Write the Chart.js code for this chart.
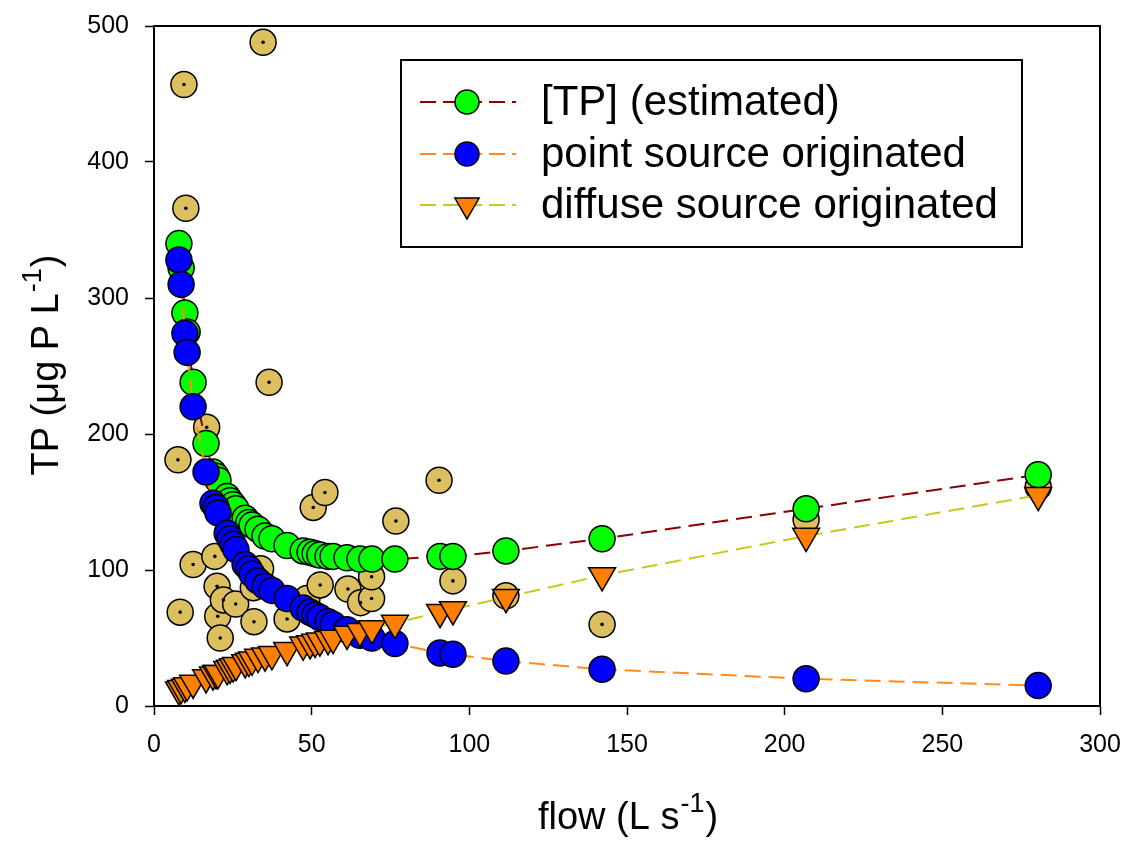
<!DOCTYPE html>
<html><head><meta charset="utf-8">
<script src="https://cdn.jsdelivr.net/npm/chart.js@4.4.0/dist/chart.umd.min.js"></script>
<style>html,body{margin:0;padding:0;background:#fff}#wrap{width:1125px;height:842px;position:relative}</style>
</head><body><div id="wrap"><canvas id="c" width="1125" height="842"></canvas></div>
<script>
// flow (L s-1) shared by the modelled series
const flow = [7.9, 8.6, 9.8, 10.5, 12.4, 16.5, 18.7, 19.7, 20.3, 23.2, 24.1, 25.1, 26.0, 28.9, 30.1, 31.1, 33.0, 35.2, 37.4, 42.2, 47.3, 49.5, 51.1, 52.6, 55.2, 56.8, 61.2, 65.3, 69.1, 76.4, 90.7, 94.8, 111.6, 142.1, 206.8, 280.4];
const tpEstimated = [340, 322, 289, 275, 238, 193, 172, 169, 166, 154, 151, 148, 145, 138, 135, 133, 130, 125, 123, 118, 114, 113, 112, 111, 110, 110, 109, 108, 108, 108, 110, 110, 114, 123, 145, 170];
const pointSource = [328, 310, 274, 260, 220, 172, 149, 146, 142, 127, 123, 119, 115, 104, 101, 97, 92, 88, 85, 79, 72, 69, 67, 65, 62, 60, 56, 52, 50, 46, 39, 38, 33, 27, 20, 15];
const diffuseSource = [12, 13, 14, 15, 17, 21, 23, 24, 24, 27, 28, 29, 30, 32, 33, 34, 36, 37, 38, 41, 45, 46, 47, 48, 49, 50, 53, 55, 57, 61, 69, 71, 80, 96, 125, 155];
// observed TP
const obsFlow = [7.6, 8.3, 9.5, 10.1, 12.4, 16.7, 19.3, 20.0, 20.2, 21.0, 22.0, 25.9, 31.5, 31.7, 33.8, 34.6, 36.5, 42.2, 48.5, 50.5, 52.7, 54.2, 61.5, 65.5, 69.0, 69.0, 76.7, 90.4, 94.8, 111.6, 142.1, 206.8, 280.4];
const obsTP = [181, 69, 457, 366, 104, 205, 110, 88, 66, 50, 78, 75, 87, 62, 101, 488, 238, 64, 79, 146, 89, 157, 86, 76, 79, 95, 136, 166, 92, 81, 60, 137, 161];
const xTicks = [0, 50, 100, 150, 200, 250, 300];
const yTicks = [0, 100, 200, 300, 400, 500];
const seriesLabels = ['[TP] (estimated)', 'point source originated', 'diffuse source originated'];

const FONT = '"Liberation Sans", Arial, Helvetica, sans-serif';
const pts = (xs, ys) => xs.map((x, i) => ({x: x, y: ys[i]}));
const DASH = [16, 8];

const styles = [
  {line: '#8B0000', fill: '#00FF00', shape: 'circle', r: 13, rot: 0},
  {line: '#FF8C1A', fill: '#0000FF', shape: 'circle', r: 13, rot: 0},
  {line: '#C8C81E', fill: '#FF8000', shape: 'triangle', r: 15.5, rot: 180}
];

const extras = {
  id: 'extras',
  afterDatasetsDraw(chart) {
    const ctx = chart.ctx, a = chart.chartArea;
    ctx.save();
    ctx.strokeStyle = '#000';
    ctx.lineWidth = 2;
    ctx.beginPath();
    ctx.moveTo(a.left, a.top); ctx.lineTo(a.right, a.top); ctx.lineTo(a.right, a.bottom);
    ctx.stroke();
    ctx.restore();
  },
  afterDraw(chart) {
    const ctx = chart.ctx, a = chart.chartArea;
    ctx.save();
    ctx.fillStyle = '#000';
    ctx.textBaseline = 'alphabetic';
    // x title
    const big = 38, small = 27;
    const xa = 'flow (L s', xs = '-1', xb = ')';
    ctx.font = big + 'px ' + FONT;
    const w1 = ctx.measureText(xa).width, w3 = ctx.measureText(xb).width;
    ctx.font = small + 'px ' + FONT;
    const w2 = ctx.measureText(xs).width;
    let x0 = (a.left + a.right) / 2 - (w1 + w2 + w3) / 2;
    const yb = 829;
    ctx.font = big + 'px ' + FONT; ctx.textAlign = 'left';
    ctx.fillText(xa, x0, yb);
    ctx.font = small + 'px ' + FONT;
    ctx.fillText(xs, x0 + w1 + 1, yb - 17);
    ctx.font = big + 'px ' + FONT;
    ctx.fillText(xb, x0 + w1 + w2 + 2, yb);
    // y title
    const ya = 'TP (\u03BCg P L', ys = '-1', yc = ')';
    ctx.font = big + 'px ' + FONT;
    const v1 = ctx.measureText(ya).width, v3 = ctx.measureText(yc).width;
    ctx.font = small + 'px ' + FONT;
    const v2 = ctx.measureText(ys).width;
    ctx.translate(58, (a.top + a.bottom) / 2);
    ctx.rotate(-Math.PI / 2);
    let s0 = -(v1 + v2 + v3) / 2;
    ctx.font = big + 'px ' + FONT;
    ctx.fillText(ya, s0, 0);
    ctx.font = small + 'px ' + FONT;
    ctx.fillText(ys, s0 + v1 + 1, -17);
    ctx.font = big + 'px ' + FONT;
    ctx.fillText(yc, s0 + v1 + v2 + 2, 0);
    ctx.restore();

    // legend
    ctx.save();
    ctx.fillStyle = '#fff';
    ctx.fillRect(401, 60, 621, 187);
    ctx.strokeStyle = '#000';
    ctx.lineWidth = 2;
    ctx.strokeRect(401, 60, 621, 187);
    const rows = [102, 154, 205];
    rows.forEach((ry, i) => {
      const st = styles[i];
      ctx.save();
      ctx.strokeStyle = st.line; ctx.lineWidth = 2; ctx.setLineDash([16, 7]);
      ctx.beginPath(); ctx.moveTo(420, ry); ctx.lineTo(516, ry); ctx.stroke();
      ctx.restore();
      ctx.save();
      ctx.fillStyle = st.fill; ctx.strokeStyle = '#000'; ctx.lineWidth = 1.5;
      Chart.helpers.drawPoint(ctx, {pointStyle: st.shape, rotation: st.rot, radius: i === 2 ? 14 : 12, borderWidth: 1.5}, 467, ry);
      ctx.restore();
      ctx.fillStyle = '#000';
      ctx.font = '42px ' + FONT;
      ctx.textAlign = 'left'; ctx.textBaseline = 'middle';
      ctx.fillText(seriesLabels[i], 541, ry + 1);
    });
    ctx.restore();
  }
};

const series = [tpEstimated, pointSource, diffuseSource].map((vals, i) => ({
  label: seriesLabels[i],
  data: pts(flow, vals),
  showLine: true,
  borderColor: styles[i].line,
  borderWidth: 2,
  borderDash: DASH,
  pointStyle: styles[i].shape,
  rotation: styles[i].rot,
  pointRadius: styles[i].r,
  pointBackgroundColor: styles[i].fill,
  pointBorderColor: '#000',
  pointBorderWidth: 1.5,
  fill: false,
  order: 3 - i
}));

new Chart(document.getElementById('c').getContext('2d'), {
  type: 'scatter',
  data: {
    datasets: [
      {label: 'observed', data: pts(obsFlow, obsTP), pointRadius: 13, pointBackgroundColor: '#DCC060', pointBorderColor: '#000', pointBorderWidth: 1.5, showLine: false, order: 6},
      {label: 'observed centre', data: pts(obsFlow, obsTP), pointRadius: 1.8, pointBackgroundColor: '#000', pointBorderColor: '#000', pointBorderWidth: 0, showLine: false, order: 5},
      ...series
    ]
  },
  options: {
    responsive: false, animation: false, devicePixelRatio: 1,
    layout: {padding: {top: 26, right: 25, left: 0, bottom: 0}},
    plugins: {legend: {display: false}, tooltip: {enabled: false}},
    scales: {
      x: {
        type: 'linear', min: 0, max: 300,
        afterBuildTicks(s) { s.ticks = xTicks.map(v => ({value: v})); },
        ticks: {font: {family: FONT, size: 25}, color: '#000', padding: 15},
        grid: {drawOnChartArea: false, drawTicks: true, tickLength: 9, tickColor: '#000', tickWidth: 1.5},
        border: {display: true, color: '#000', width: 2},
        afterFit(s) { s.height = 136; s.paddingLeft = 0; s.paddingRight = 0; }
      },
      y: {
        type: 'linear', min: 0, max: 500,
        afterBuildTicks(s) { s.ticks = yTicks.map(v => ({value: v})); },
        ticks: {font: {family: FONT, size: 25}, color: '#000', padding: 16},
        grid: {drawOnChartArea: false, drawTicks: true, tickLength: 9, tickColor: '#000', tickWidth: 1.5},
        border: {display: true, color: '#000', width: 2},
        afterFit(s) { s.width = 154; s.paddingTop = 0; s.paddingBottom = 0; }
      }
    }
  },
  plugins: [extras]
});
</script>
</body></html>
